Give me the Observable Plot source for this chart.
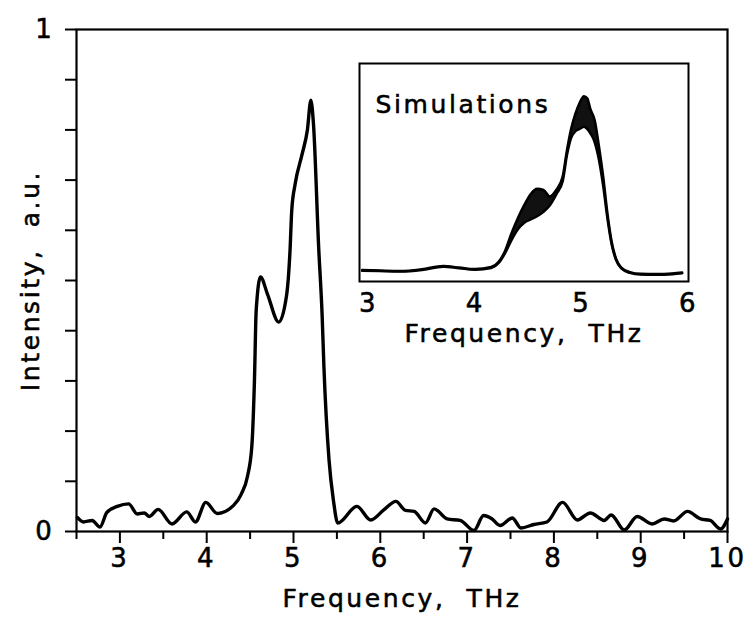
<!DOCTYPE html>
<html>
<head>
<meta charset="utf-8">
<script src="https://cdn.jsdelivr.net/npm/d3@7"></script>
<script src="https://cdn.jsdelivr.net/npm/@observablehq/plot@0.6"></script>
<style>
  html, body { margin: 0; padding: 0; background: #fff; }
  #wrap { position: relative; width: 753px; height: 621px; }
  #wrap svg { position: absolute; background: transparent; }
  #wrap svg text { letter-spacing: 2.6px; white-space: pre; stroke: #000; stroke-width: 0.55px; fill: #000; }
</style>
</head>
<body>
<div id="wrap"></div>
<script>
// ---- Main (measured) spectrum ----
const mainFreq = [2.51, 2.58, 2.68, 2.77, 2.85, 2.97, 3.10, 3.20, 3.28, 3.34, 3.44, 3.60, 3.77, 3.87, 3.99,
  4.12, 4.31, 4.40, 4.47, 4.52, 4.55, 4.57, 4.62, 4.70, 4.83, 4.92, 4.96, 4.98, 5.02, 5.10, 5.16, 5.20,
  5.23, 5.29, 5.33, 5.35, 5.41, 5.46, 5.51, 5.73, 5.89, 6.04, 6.18, 6.29, 6.39, 6.52, 6.62, 6.77, 6.92,
  7.08, 7.19, 7.28, 7.38, 7.52, 7.62, 7.77, 7.92, 8.10, 8.27, 8.42, 8.58, 8.66, 8.81, 8.96, 9.13, 9.27,
  9.38, 9.54, 9.69, 9.80, 9.92, 10.0];
const mainIntensity = [0.028, 0.019, 0.022, 0.009, 0.038, 0.050, 0.055, 0.035, 0.037, 0.030, 0.044, 0.015, 0.039, 0.019, 0.058,
  0.036, 0.052, 0.075, 0.110, 0.170, 0.300, 0.440, 0.507, 0.473, 0.417, 0.470, 0.560, 0.640, 0.693, 0.752, 0.800, 0.859,
  0.812, 0.566, 0.430, 0.330, 0.141, 0.062, 0.017, 0.050, 0.023, 0.043, 0.060, 0.042, 0.040, 0.017, 0.045, 0.025, 0.022,
  0.002, 0.032, 0.026, 0.012, 0.027, 0.007, 0.014, 0.019, 0.058, 0.023, 0.037, 0.022, 0.033, 0.003, 0.030, 0.015, 0.025,
  0.021, 0.040, 0.025, 0.022, 0.005, 0.025];

// ---- Inset (simulations): lower and upper envelope of the bundle ----
const simFreq = [2.94, 3.10, 3.30, 3.50, 3.70, 3.85, 4.00, 4.15, 4.22, 4.28, 4.34, 4.40, 4.46, 4.52, 4.58, 4.64,
  4.70, 4.76, 4.82, 4.86, 4.90, 4.94, 4.98, 5.02, 5.05, 5.08, 5.12, 5.16, 5.20, 5.24, 5.28, 5.32, 5.37, 5.45,
  5.55, 5.70, 5.85, 5.94];
const simLow = [0.050, 0.048, 0.046, 0.053, 0.068, 0.061, 0.054, 0.062, 0.085, 0.130, 0.190, 0.240, 0.270, 0.285, 0.300, 0.320,
  0.350, 0.400, 0.460, 0.580, 0.660, 0.690, 0.700, 0.710, 0.700, 0.680, 0.640, 0.560, 0.440, 0.290, 0.170, 0.100, 0.060, 0.040,
  0.032, 0.031, 0.034, 0.038];
const simHigh = [0.052, 0.050, 0.048, 0.056, 0.071, 0.064, 0.057, 0.066, 0.090, 0.140, 0.220, 0.290, 0.350, 0.400, 0.425, 0.420,
  0.390, 0.420, 0.480, 0.600, 0.700, 0.770, 0.820, 0.850, 0.840, 0.790, 0.740, 0.620, 0.480, 0.310, 0.180, 0.105, 0.064, 0.043,
  0.035, 0.034, 0.037, 0.041];

// ---- Tick values and labels ----
const xMajorTicks = [3, 4, 5, 6, 7, 8, 9, 10];
const xMinorTicks = [2.5, 3.5, 4.5, 5.5, 6.5, 7.5, 8.5, 9.5];
const yTicks = [0, 0.1, 0.2, 0.3, 0.4, 0.5, 0.6, 0.7, 0.8, 0.9, 1];
const yLabelled = [0, 1];
const insetTicks = [3, 4, 5, 6];
const xTitle = "Frequency,  THz";
const yTitle = "Intensity,  a.u.";
const insetLabel = "Simulations";

const mainData = mainFreq.map((f, i) => ({f, v: mainIntensity[i]}));
const simData = simFreq.map((f, i) => ({f, lo: simLow[i], hi: simHigh[i]}));

const font = "DejaVu Sans";

const main = Plot.plot({
  width: 753, height: 621,
  marginLeft: 76, marginRight: 26, marginTop: 29, marginBottom: 90,
  style: {fontFamily: font, fontSize: "26px", color: "#000", background: "transparent", overflow: "visible"},
  x: {domain: [2.5, 10]},
  y: {domain: [0, 1]},
  marks: [
    Plot.frame({stroke: "#000", strokeWidth: 2.2}),
    Plot.axisX(xMinorTicks, {tickSize: 8, strokeWidth: 2, tickFormat: () => "", label: null}),
    Plot.axisX(xMajorTicks, {tickSize: 12, tickPadding: 5, strokeWidth: 2, fontSize: 26, label: null}),
    Plot.axisY(yTicks, {tickSize: 11, tickPadding: 11, strokeWidth: 2, fontSize: 26, label: null,
      tickFormat: d => (yLabelled.includes(d) ? String(d) : "")}),
    Plot.text([xTitle], {frameAnchor: "bottom", textAnchor: "middle", lineAnchor: "middle", dy: 67, fontSize: 25}),
    Plot.text([yTitle], {frameAnchor: "left", textAnchor: "middle", lineAnchor: "middle", rotate: -90, dx: -46, fontSize: 25}),
    Plot.line(mainData, {x: "f", y: "v", stroke: "#000", strokeWidth: 3.4, curve: "monotone-x"})
  ]
});
main.style.left = "0px";
main.style.top = "0px";

const inset = Plot.plot({
  width: 400, height: 310,
  marginLeft: 29, marginRight: 42, marginTop: 23, marginBottom: 69,
  style: {fontFamily: font, fontSize: "26px", color: "#000", background: "transparent", overflow: "visible"},
  x: {domain: [2.915, 6]},
  y: {domain: [0, 1], axis: null},
  marks: [
    Plot.frame({stroke: "#000", strokeWidth: 2, fill: "#fff"}),
    Plot.axisX(insetTicks, {tickSize: 0, tickPadding: 12, fontSize: 26, label: null}),
    Plot.text([xTitle], {frameAnchor: "bottom", textAnchor: "middle", lineAnchor: "middle", dy: 52, fontSize: 25}),
    Plot.text([insetLabel], {frameAnchor: "top-left", textAnchor: "start", lineAnchor: "middle", dx: 16, dy: 41, fontSize: 25}),
    Plot.areaY(simData, {x: "f", y1: "lo", y2: "hi", fill: "#111", curve: "monotone-x"}),
    Plot.line(simData, {x: "f", y: "lo", stroke: "#000", strokeWidth: 2.6, curve: "monotone-x"}),
    Plot.line(simData, {x: "f", y: "hi", stroke: "#000", strokeWidth: 2.6, curve: "monotone-x"})
  ]
});
inset.style.left = "330px";
inset.style.top = "40px";

const wrap = document.getElementById("wrap");
wrap.appendChild(main);
wrap.appendChild(inset);
</script>
</body>
</html>
